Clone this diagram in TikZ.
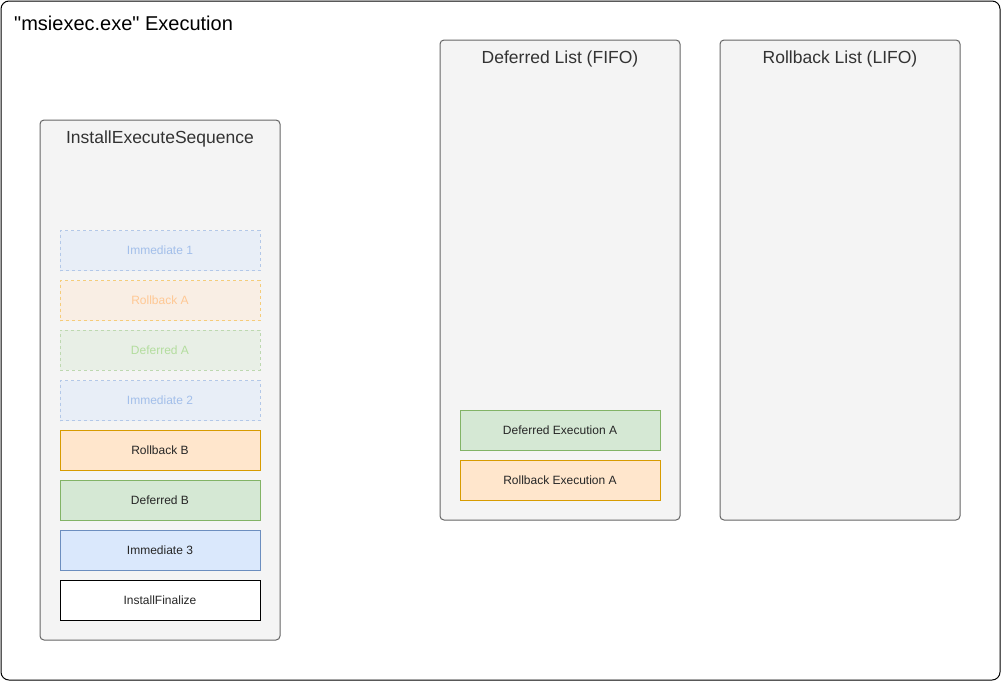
\documentclass[tikz,border=0pt]{standalone}
\usepackage{fontspec}
\setmainfont[Ligatures=TeXOff]{Liberation Sans}
\definecolor{panelfill}{HTML}{F4F4F4}
\definecolor{panelline}{HTML}{666666}
\definecolor{paneltext}{HTML}{333333}
\definecolor{bluefill}{HTML}{DAE8FC}
\definecolor{blueline}{HTML}{6C8EBF}
\definecolor{orangefill}{HTML}{FFE6CC}
\definecolor{orangeline}{HTML}{D79B00}
\definecolor{greenfill}{HTML}{D5E8D4}
\definecolor{greenline}{HTML}{82B366}
\definecolor{fbluefill}{HTML}{E8EEF7}
\definecolor{fblueline}{HTML}{B3C8E8}
\definecolor{fbluetext}{HTML}{A3BFEA}
\definecolor{forangefill}{HTML}{F9EEE4}
\definecolor{forangeline}{HTML}{F5CC7A}
\definecolor{forangetext}{HTML}{FFC894}
\definecolor{fgreenfill}{HTML}{E8EFE6}
\definecolor{fgreenline}{HTML}{BDD8B0}
\definecolor{fgreentext}{HTML}{B3DD9E}
\tikzset{
  x=1pt, y=-1pt,
  panel/.style={draw=panelline, fill=panelfill, line width=1pt, rounded corners=4pt,
    anchor=north west, inner sep=0pt, outer sep=0pt},
  paneltitle/.style={text=paneltext, font=\fontsize{17.5}{20}\selectfont, inner sep=0pt},
  item/.style={line width=1pt, minimum width=200pt, minimum height=40pt, inner sep=0pt,
    outer sep=0pt, font=\fontsize{12}{14}\selectfont, text=black!85,
    text height=8pt, text depth=0pt},
  faded/.style={item, dash pattern=on 3pt off 3pt},
  bluebox/.style={item, draw=blueline, fill=bluefill},
  orangebox/.style={item, draw=orangeline, fill=orangefill},
  greenbox/.style={item, draw=greenline, fill=greenfill},
  plainbox/.style={item, draw=black, fill=white},
  fbluebox/.style={faded, draw=fblueline, fill=fbluefill, text=fbluetext},
  forangebox/.style={faded, draw=forangeline, fill=forangefill, text=forangetext},
  fgreenbox/.style={faded, draw=fgreenline, fill=fgreenfill, text=fgreentext},
}
\begin{document}
\begin{tikzpicture}
\useasboundingbox (0,0) rectangle (1001,681);
% outer frame
\node[draw=black, fill=white, line width=1pt, rounded corners=8pt, anchor=north west,
  minimum width=999pt, minimum height=679pt, inner sep=0pt, outer sep=0pt] (frame) at (1,1) {};
\node[anchor=west, inner sep=0pt, font=\fontsize{20}{24}\selectfont] (frametitle) at (14,23)
  {"msiexec.exe" Execution};

% sequence panel
\node[panel, minimum width=240pt, minimum height=520pt] (seq) at (40,120) {};
\node[paneltitle] (seqtitle) at (160,139) {InstallExecuteSequence};
\node[fbluebox] (imm1) at (160,250.5) {Immediate 1};
\node[forangebox] (rba) at (160,300.5) {Rollback A};
\node[fgreenbox] (defa) at (160,350) {Deferred A};
\node[fbluebox] (imm2) at (160,400.5) {Immediate 2};
\node[orangebox] (rbb) at (160,450.5) {Rollback B};
\node[greenbox] (defb) at (160,500.5) {Deferred B};
\node[bluebox] (imm3) at (160,550.5) {Immediate 3};
\node[plainbox] (fin) at (160,600.5) {InstallFinalize};

% deferred list panel
\node[panel, minimum width=240pt, minimum height=480pt] (dlist) at (440,40) {};
\node[paneltitle] (dlisttitle) at (560,59) {Deferred List (FIFO)};
\node[greenbox] (dexa) at (560,430.5) {Deferred Execution A};
\node[orangebox] (rexa) at (560,480.5) {Rollback Execution A};

% rollback list panel
\node[panel, minimum width=240pt, minimum height=480pt] (rlist) at (720,40) {};
\node[paneltitle] (rlisttitle) at (840,59) {Rollback List (LIFO)};
\end{tikzpicture}
\end{document}
